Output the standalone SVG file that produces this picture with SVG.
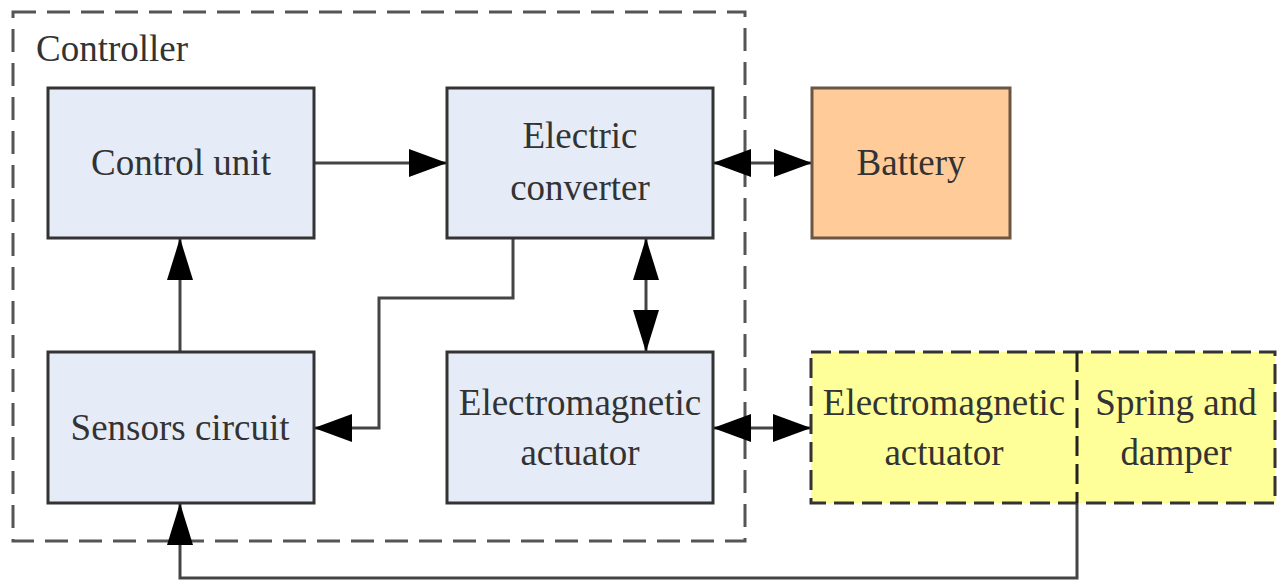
<svg xmlns="http://www.w3.org/2000/svg" width="1279" height="581" viewBox="0 0 1279 581">
<style>
.box{fill:#E6ECF7;stroke:#333;stroke-width:3}
.c{fill:none;stroke:#444;stroke-width:3}
</style>
<defs>
<marker id="ah" markerUnits="userSpaceOnUse" markerWidth="40" markerHeight="30" refX="38" refY="14" orient="auto-start-reverse">
<path d="M0,0 L38,14 L0,28 z" fill="#000"/>
</marker>
<marker id="av" markerUnits="userSpaceOnUse" markerWidth="44" markerHeight="28" refX="42" refY="13" orient="auto-start-reverse">
<path d="M0,0 L42,13 L0,26 z" fill="#000"/>
</marker>
</defs>
<rect x="0" y="0" width="1279" height="581" fill="#fff"/>
<g id="controller">
<rect x="13" y="12" width="732" height="529" fill="none" stroke="#555" stroke-width="3" stroke-dasharray="23 11"/>
<text x="36" y="61" style="font-family:'Liberation Serif','Times New Roman',serif;font-size:37px;fill:#333">Controller</text>
</g>
<g id="connectors">
<path class="c" d="M314,163 H447" marker-end="url(#ah)"/>
<path class="c" d="M713,163 H812" marker-start="url(#ah)" marker-end="url(#ah)"/>
<path class="c" d="M180,352 V238" marker-end="url(#av)"/>
<path class="c" d="M513,238 V298 H379 V428 H314" marker-end="url(#ah)"/>
<path class="c" d="M646,238 V352" marker-start="url(#av)" marker-end="url(#av)"/>
<path class="c" d="M713,428 H811" marker-start="url(#ah)" marker-end="url(#ah)"/>
<path class="c" d="M1077,503 V578 H180 V503" marker-end="url(#av)"/>
</g>
<g id="control-unit">
<rect class="box" x="48" y="88" width="266" height="150"/>
<text x="181" y="175" style="font-family:'Liberation Serif','Times New Roman',serif;font-size:37px;fill:#333;text-anchor:middle">Control unit</text>
</g>
<g id="electric-converter">
<rect class="box" x="447" y="88" width="266" height="150"/>
<text x="580" y="148" style="font-family:'Liberation Serif','Times New Roman',serif;font-size:37px;fill:#333;text-anchor:middle">Electric</text>
<text x="580" y="200" style="font-family:'Liberation Serif','Times New Roman',serif;font-size:37px;fill:#333;text-anchor:middle">converter</text>
</g>
<g id="battery">
<rect x="812" y="88" width="198" height="150" fill="#FFCC99" stroke="#6B5545" stroke-width="3"/>
<text x="911" y="175" style="font-family:'Liberation Serif','Times New Roman',serif;font-size:37px;fill:#333;text-anchor:middle">Battery</text>
</g>
<g id="sensors-circuit">
<rect class="box" x="48" y="352" width="266" height="151"/>
<text x="180" y="440" style="font-family:'Liberation Serif','Times New Roman',serif;font-size:37px;fill:#333;text-anchor:middle">Sensors circuit</text>
</g>
<g id="em-actuator-inner">
<rect class="box" x="447" y="352" width="266" height="151"/>
<text x="580" y="415" style="font-family:'Liberation Serif','Times New Roman',serif;font-size:37px;fill:#333;text-anchor:middle">Electromagnetic</text>
<text x="580" y="465" style="font-family:'Liberation Serif','Times New Roman',serif;font-size:37px;fill:#333;text-anchor:middle">actuator</text>
</g>
<g id="suspension">
<rect x="811" y="352" width="464" height="151" fill="#FFFF99" stroke="#333" stroke-width="3" stroke-dasharray="20 8"/>
<line x1="1077" y1="352" x2="1077" y2="503" stroke="#222" stroke-width="3" stroke-dasharray="20 8"/>
<text x="944" y="415" style="font-family:'Liberation Serif','Times New Roman',serif;font-size:37px;fill:#333;text-anchor:middle">Electromagnetic</text>
<text x="944" y="465" style="font-family:'Liberation Serif','Times New Roman',serif;font-size:37px;fill:#333;text-anchor:middle">actuator</text>
<text x="1176" y="415" style="font-family:'Liberation Serif','Times New Roman',serif;font-size:37px;fill:#333;text-anchor:middle">Spring and</text>
<text x="1176" y="465" style="font-family:'Liberation Serif','Times New Roman',serif;font-size:37px;fill:#333;text-anchor:middle">damper</text>
</g>
</svg>
